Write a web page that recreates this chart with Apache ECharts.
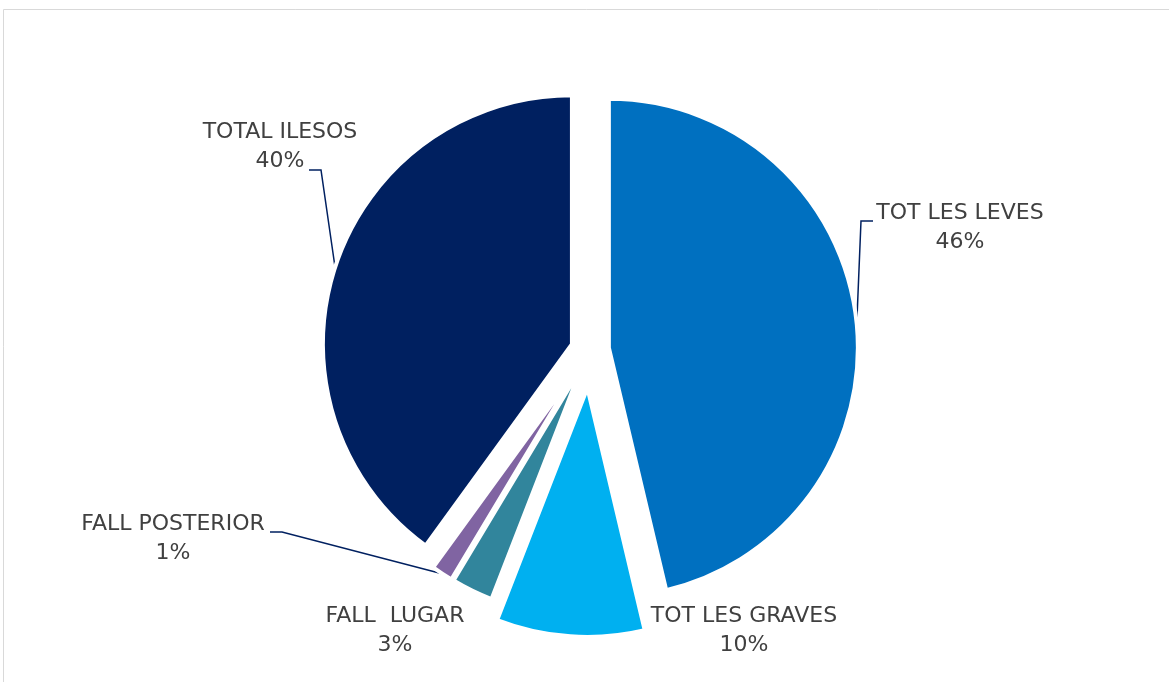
<!DOCTYPE html>
<html>
<head>
<meta charset="utf-8">
<script src="https://cdn.jsdelivr.net/npm/echarts@6/dist/echarts.min.js"></script>
<style>
html,body{margin:0;padding:0;background:#fff;}
#c{width:1169px;height:682px;}
</style>
</head>
<body>
<div id="c"></div>
<script>
// ---- data ----
const categories = ['TOT LES LEVES', 'TOT LES GRAVES', 'FALL  LUGAR', 'FALL POSTERIOR', 'TOTAL ILESOS'];
const values = [46.3, 9.6, 2.7, 1.4, 40.0];

// ---- styles / layout ----
const colors = ['#0070C0', '#00B0F0', '#31859C', '#8064A2', '#002060'];
const explode = [19, 38, 19, 19, 19];
const labelPos = [[960, 228], [744, 631], [395, 631], [173, 539], [280, 147]];
const leaders = [
  [[857, 318], [861, 221], [873, 221]],
  null,
  null,
  [[443, 574], [282, 532], [270, 532]],
  [[335, 267], [321, 170], [309, 170]]
];
const C = [590, 350], R = 249;

const chart = echarts.init(document.getElementById('c'), null, {renderer: 'canvas'});
const total = values.reduce((a, b) => a + b, 0);
let acc = 0;
const series = values.map((v, i) => {
  const a0 = acc / total * 360;
  acc += v;
  const a1 = acc / total * 360;
  const mid = (a0 + a1) / 2 * Math.PI / 180;
  const cx = C[0] + explode[i] * Math.sin(mid);
  const cy = C[1] - explode[i] * Math.cos(mid);
  return {
    type: 'pie',
    center: [cx, cy],
    radius: R,
    startAngle: 90,
    clockwise: true,
    percentPrecision: 0,
    silent: true,
    animation: false,
    avoidLabelOverlap: false,
    emphasis: {disabled: true},
    data: categories.map((n, j) => ({
      name: n,
      value: values[j],
      itemStyle: j === i
        ? {color: colors[j], borderColor: '#ffffff', borderWidth: 4}
        : {color: 'rgba(0,0,0,0)', borderWidth: 0},
      label: {show: j === i},
      labelLine: {show: j === i && leaders[j] !== null}
    })),
    label: {
      position: 'outside',
      formatter: '{b}\n{d}%',
      fontFamily: 'DejaVu Sans',
      fontSize: 22,
      lineHeight: 29,
      color: '#404040'
    },
    labelLine: {
      lineStyle: {color: '#002060', width: 1.5}
    },
    labelLayout: function (p) {
      if (p.dataIndex !== i) return {};
      const o = {x: labelPos[i][0], y: labelPos[i][1], align: 'center', verticalAlign: 'middle'};
      if (leaders[i]) o.labelLinePoints = leaders[i];
      return o;
    }
  };
});

chart.setOption({
  backgroundColor: '#ffffff',
  animation: false,
  graphic: [{
    type: 'rect',
    shape: {x: 3.5, y: 9.5, width: 1200, height: 700},
    style: {fill: 'none', stroke: '#d9d9d9', lineWidth: 1},
    silent: true
  }],
  series: series
});
</script>
</body>
</html>
